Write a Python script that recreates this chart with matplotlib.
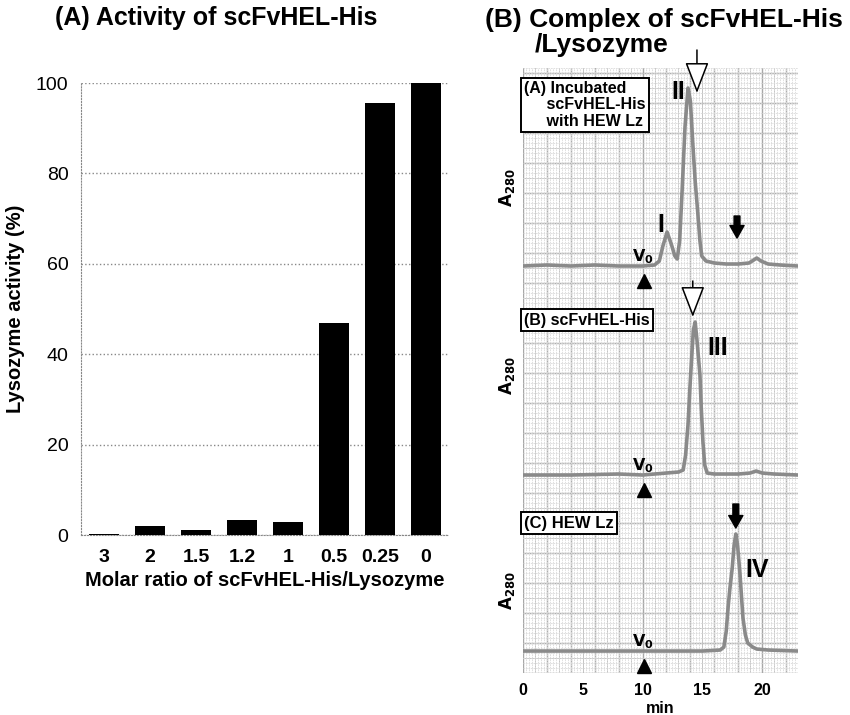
import matplotlib
matplotlib.use("Agg")
import matplotlib.pyplot as plt
import numpy as np

plt.rcParams['font.family'] = ['Liberation Sans', 'DejaVu Sans']

# (A) lysozyme activity vs molar ratio
ratios = ["3", "2", "1.5", "1.2", "1", "0.5", "0.25", "0"]
activity = [0.3, 2.0, 1.2, 3.3, 2.9, 47.0, 95.5, 100.0]

# (B) gel filtration traces (min, A280 in arbitrary units)
time_a = [0, 2, 4, 6, 8, 10, 11.0, 11.4, 11.7, 12.05, 12.4, 12.7, 12.9, 13.1, 13.3,
          13.55, 13.8, 14.0, 14.2, 14.4, 14.6, 14.8, 14.95, 15.3, 16, 17, 18, 18.9,
          19.3, 19.55, 19.9, 20.5, 21.5, 23]
abs_a = [0, 1, 0, 1, 0, 0, 1, 5, 20, 34, 22, 10, 7, 25, 73,
         139, 178, 165, 123, 85, 56, 25, 10, 5, 3, 2, 2, 3,
         6, 8, 5, 2, 1, 0]

time_b = [0, 4, 8, 10, 11, 12, 13, 13.4, 13.6, 13.8, 13.95, 14.1, 14.25, 14.4, 14.55,
          14.8, 14.9, 15.05, 15.2, 15.4, 16, 18, 19, 19.5, 20, 21, 23]
abs_b = [0, 0, 1, 0, 1, 2, 3, 5, 20, 50, 85, 116, 145, 153, 135,
         100, 70, 33, 10, 2, 1, 1, 2, 4, 2, 1, 0]

time_c = [0, 5, 10, 15, 16.5, 16.8, 17.0, 17.15, 17.3, 17.5, 17.65, 17.8, 17.95,
          18.15, 18.3, 18.4, 18.6, 18.8, 19.2, 19.55, 20.5, 23]
abs_c = [0, 0, 0, 0, 1, 4, 20, 43, 62, 83, 105, 117, 105,
         77, 50, 33, 16, 8, 4, 2, 1, 0]

fig = plt.figure(figsize=(8.5, 7.15), dpi=100)

# ---------------- panel A ----------------
ax1 = fig.add_axes([0.0953, 0.2517, 0.4330, 0.6322])
x = np.arange(len(ratios))
ax1.bar(x, activity, width=0.66, color='black', zorder=3)
ax1.set_xlim(-0.5, len(ratios) - 0.5)
ax1.set_ylim(0, 100)
ax1.set_yticks([0, 20, 40, 60, 80, 100])
ax1.set_xticks(x)
ax1.set_xticklabels(ratios, fontsize=14, fontweight='bold')
ax1.tick_params(axis='y', labelsize=14, length=0, pad=9)
ax1.tick_params(axis='x', length=0, pad=10)
ax1.yaxis.grid(True, linestyle=':', color='#888888', linewidth=1)
for s in ['top', 'right']:
    ax1.spines[s].set_visible(False)
for s in ['left', 'bottom']:
    ax1.spines[s].set_linestyle(':')
    ax1.spines[s].set_color('#888888')
ax1.set_ylabel("Lysozyme activity (%)", fontsize=14.5, fontweight='bold', labelpad=8)
ax1.set_xlabel("Molar ratio of scFvHEL-His/Lysozyme", fontsize=14.5,
               fontweight='bold', labelpad=4)
fig.text(0.254, 0.975, "(A) Activity of scFvHEL-His", fontsize=18,
         fontweight='bold', ha='center', va='center')

# ---------------- panel B ----------------
ax2 = fig.add_axes([0.6153, 0.0587, 0.3235, 0.8462])
ax2.set_xlim(0, 23)
ax2.set_ylim(0, 605)
ax2.set_xticks([0, 5, 10, 15, 20])
ax2.set_xticks(np.arange(0, 23.01, 0.25), minor=True)
ax2.set_yticks([])
ax2.set_yticks(np.arange(0, 606, 5), minor=True)
# graph paper
ax2.grid(True, which='minor', color='#dadada', linewidth=0.6, linestyle=(0, (2, 1)),
         zorder=0)
for xv in np.arange(0, 23.01, 1):
    ax2.axvline(xv, color='#c4c4c4', linewidth=0.7, zorder=1)
for xv in np.arange(0, 23.01, 2):
    ax2.axvline(xv, color='#a8a8a8', linewidth=1.0, zorder=1)
for yv in np.arange(0, 606, 15):
    ax2.axhline(yv, color='#c4c4c4', linewidth=0.7, zorder=1)
for yv in np.arange(0, 606, 30):
    ax2.axhline(yv, color='#a8a8a8', linewidth=1.0, zorder=1)
ax2.tick_params(which='both', length=0)
ax2.tick_params(axis='x', pad=7)
for lab in ax2.get_xticklabels():
    lab.set_fontweight('bold')
    lab.set_fontsize(11.5)
for s in ax2.spines.values():
    s.set_visible(False)
ax2.set_xlabel("min", fontsize=11.5, fontweight='bold', labelpad=2)

traces = [(time_a, abs_a, 407), (time_b, abs_b, 198), (time_c, abs_c, 22)]
for t, a, off in traces:
    ax2.plot(t, np.array(a) + off, color='#8a8a8a', linewidth=2.6, zorder=3,
             solid_joinstyle='round')

# V0 markers
for off in [407, 198, 22]:
    ax2.plot(10.1, off - 15, marker='^', color='black', markersize=10,
             clip_on=False, zorder=5)
    ax2.text(10.0, off + 9, r"$\mathbf{V_0}$", fontsize=11.5, ha='center',
             va='center', zorder=5)

# A280 labels
for yv in [485, 297, 82]:
    ax2.text(-1.35, yv, r"$\mathbf{A_{280}}$", fontsize=12, rotation=90,
             ha='center', va='center')

# roman numerals
ax2.text(11.5, 448, "I", fontsize=18, fontweight='bold', ha='center', va='center')
ax2.text(13.0, 581, "II", fontsize=18, fontweight='bold', ha='center', va='center')
ax2.text(16.3, 325, "III", fontsize=18, fontweight='bold', ha='center', va='center')
ax2.text(19.6, 103, "IV", fontsize=18, fontweight='bold', ha='center', va='center')

# open arrows
for xa, tip, tail in [(14.55, 580, 623), (14.2, 356, 392)]:
    ax2.annotate('', xy=(xa, tip), xytext=(xa, tail),
                 arrowprops=dict(arrowstyle='-|>,head_length=1.3,head_width=0.5',
                                 mutation_scale=15, fc='white', ec='black',
                                 lw=1.1, shrinkA=0, shrinkB=0),
                 annotation_clip=False, zorder=6)
# filled arrows
for xa, tip, tail in [(17.9, 435, 457), (17.8, 145, 169)]:
    ax2.annotate('', xy=(xa, tip), xytext=(xa, tail),
                 arrowprops=dict(arrowstyle='simple,head_length=0.75,head_width=0.85,tail_width=0.35',
                                 mutation_scale=12, fc='black', ec='black',
                                 shrinkA=0, shrinkB=0),
                 annotation_clip=False, zorder=6)

# sample boxes
box = dict(boxstyle='square,pad=0.2', fc='white', ec='black', lw=1.4)
ax2.text(0.1, 568, "(A) Incubated\n     scFvHEL-His\n     with HEW Lz", fontsize=11.5,
         fontweight='bold', ha='left', va='center', bbox=box, zorder=7,
         linespacing=1.1)
ax2.text(0.1, 353, "(B) scFvHEL-His", fontsize=11.5, fontweight='bold',
         ha='left', va='center', bbox=box, zorder=7)
ax2.text(0.1, 150, "(C) HEW Lz", fontsize=12, fontweight='bold',
         ha='left', va='center', bbox=box, zorder=7)

fig.text(0.571, 0.972, "(B) Complex of scFvHEL-His", fontsize=19,
         fontweight='bold', ha='left', va='center')
fig.text(0.629, 0.937, "/Lysozyme", fontsize=19, fontweight='bold',
         ha='left', va='center')

fig.savefig("out.png", dpi=100)
